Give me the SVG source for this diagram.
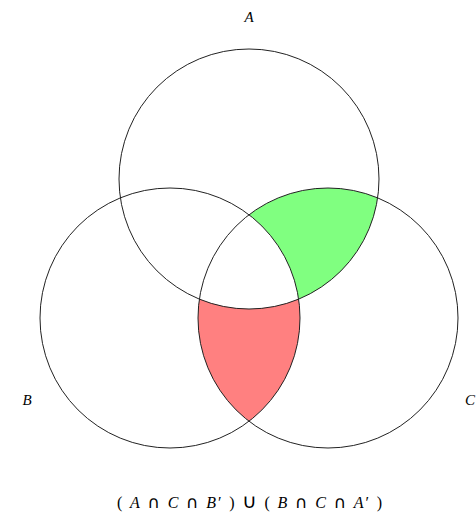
<svg xmlns="http://www.w3.org/2000/svg" width="476" height="516" viewBox="0 0 476 516">
<style>
.c{fill:none;stroke:#222;stroke-width:1}
.lbl{font-family:"Liberation Serif",serif;font-style:italic;font-size:15px;fill:#000}
.f{font-family:"Liberation Serif",serif;font-size:16px;fill:#000}
.i{font-style:italic}
.op{font-family:"DejaVu Sans",sans-serif;font-size:17px}
.u{font-family:"DejaVu Sans",sans-serif;font-size:20px}
</style>
<rect width="476" height="516" fill="#fff"/>
<g id="regions">
<path id="green" d="M377.6 197.9 A130 130 0 0 0 249 214.8 A130 130 0 0 1 298.6 299.1 A130 130 0 0 0 377.6 197.9 Z" fill="#80ff80"/>
<path id="red" d="M199.4 299.1 A130 130 0 0 0 298.6 299.1 A130 130 0 0 1 249 421.2 A130 130 0 0 1 199.4 299.1 Z" fill="#ff8080"/>
</g>
<g id="setA"><circle class="c" cx="249" cy="179" r="130"/><text class="lbl" x="249" y="22" text-anchor="middle">A</text></g>
<g id="setB"><circle class="c" cx="170" cy="318" r="130"/><text class="lbl" x="27" y="405" text-anchor="middle">B</text></g>
<g id="setC"><circle class="c" cx="328" cy="318" r="130"/><text class="lbl" x="470" y="405" text-anchor="middle">C</text></g>
<g id="formula"><text class="f" x="117" y="508" textLength="265" lengthAdjust="spacing">( <tspan class="i">A</tspan> <tspan class="op">∩</tspan> <tspan class="i">C</tspan> <tspan class="op">∩</tspan> <tspan class="i">B</tspan>′ ) <tspan class="u">∪</tspan> ( <tspan class="i">B</tspan> <tspan class="op">∩</tspan> <tspan class="i">C</tspan> <tspan class="op">∩</tspan> <tspan class="i">A</tspan>′ )</text></g>
</svg>
